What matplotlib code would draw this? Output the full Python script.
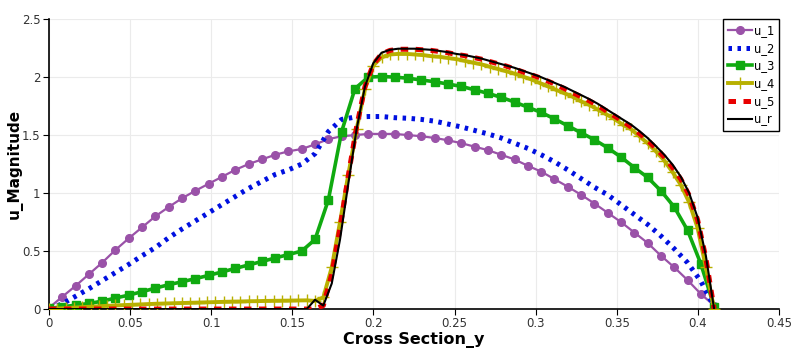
import matplotlib
matplotlib.use("Agg")
import matplotlib.pyplot as plt

# sample positions along the cross section
x_coarse = [0.0, 0.0082, 0.0164, 0.0246, 0.0328, 0.041, 0.0492, 0.0574, 0.0656, 0.0738,
            0.082, 0.0902, 0.0984, 0.1066, 0.1148, 0.123, 0.1312, 0.1394, 0.1476, 0.1558,
            0.164, 0.1722, 0.1804, 0.1886, 0.1968, 0.205, 0.2132, 0.2214, 0.2296, 0.2378,
            0.246, 0.2542, 0.2624, 0.2706, 0.2788, 0.287, 0.2952, 0.3034, 0.3116, 0.3198,
            0.328, 0.3362, 0.3444, 0.3526, 0.3608, 0.369, 0.3772, 0.3854, 0.3936, 0.4018,
            0.41]

x_fine = [0.0, 0.0051, 0.0103, 0.0154, 0.0205, 0.0256, 0.0308, 0.0359, 0.041, 0.0461,
          0.0513, 0.0564, 0.0615, 0.0666, 0.0718, 0.0769, 0.082, 0.0871, 0.0923, 0.0974,
          0.1025, 0.1076, 0.1128, 0.1179, 0.123, 0.1281, 0.1333, 0.1384, 0.1435, 0.1486,
          0.1538, 0.1589, 0.164, 0.1691, 0.1743, 0.1794, 0.1845, 0.1896, 0.1948, 0.1999,
          0.205, 0.2101, 0.2153, 0.2204, 0.2255, 0.2306, 0.2358, 0.2409, 0.246, 0.2511,
          0.2563, 0.2614, 0.2665, 0.2716, 0.2768, 0.2819, 0.287, 0.2921, 0.2973, 0.3024,
          0.3075, 0.3126, 0.3178, 0.3229, 0.328, 0.3331, 0.3383, 0.3434, 0.3485, 0.3536,
          0.3588, 0.3639, 0.369, 0.3741, 0.3793, 0.3844, 0.3895, 0.3946, 0.3998, 0.4049,
          0.41]

u_1 = [0.01, 0.106, 0.20, 0.30, 0.40, 0.51, 0.61, 0.705, 0.80, 0.88,
       0.955, 1.02, 1.08, 1.14, 1.20, 1.25, 1.29, 1.33, 1.36, 1.38,
       1.42, 1.465, 1.49, 1.50, 1.51, 1.51, 1.51, 1.50, 1.49, 1.475,
       1.455, 1.43, 1.40, 1.37, 1.33, 1.29, 1.235, 1.185, 1.12, 1.055,
       0.985, 0.91, 0.83, 0.75, 0.66, 0.57, 0.46, 0.36, 0.25, 0.13,
       0.03]

u_2 = [0.0, 0.045, 0.11, 0.175, 0.245, 0.315, 0.385, 0.46, 0.53, 0.615,
       0.69, 0.76, 0.83, 0.90, 0.97, 1.04, 1.10, 1.16, 1.20, 1.25,
       1.34, 1.53, 1.635, 1.655, 1.66, 1.66, 1.65, 1.645, 1.635, 1.62,
       1.595, 1.57, 1.54, 1.51, 1.475, 1.43, 1.385, 1.33, 1.27, 1.20,
       1.125, 1.05, 0.985, 0.90, 0.815, 0.73, 0.63, 0.52, 0.40, 0.24,
       0.02]

u_3 = [0.005, 0.02, 0.033, 0.048, 0.068, 0.095, 0.12, 0.15, 0.18, 0.21,
       0.235, 0.262, 0.29, 0.32, 0.35, 0.38, 0.41, 0.44, 0.47, 0.50,
       0.60, 0.94, 1.53, 1.90, 2.0, 2.005, 2.0, 1.99, 1.975, 1.96,
       1.94, 1.92, 1.89, 1.86, 1.825, 1.785, 1.74, 1.695, 1.64, 1.58,
       1.52, 1.46, 1.39, 1.31, 1.22, 1.135, 1.02, 0.88, 0.68, 0.39,
       0.02]

u_4 = [0.0, 0.004, 0.008, 0.012, 0.016, 0.02, 0.024, 0.028, 0.031, 0.034,
       0.037, 0.040, 0.043, 0.046, 0.048, 0.050, 0.052, 0.054, 0.056, 0.058,
       0.060, 0.062, 0.064, 0.065, 0.067, 0.068, 0.070, 0.071, 0.072, 0.073,
       0.074, 0.075, 0.07, 0.10, 0.36, 0.75, 1.16, 1.55, 1.90, 2.10,
       2.17, 2.195, 2.20, 2.20, 2.195, 2.19, 2.18, 2.175, 2.165, 2.155,
       2.14, 2.125, 2.11, 2.09, 2.07, 2.05, 2.03, 2.005, 1.98, 1.95,
       1.92, 1.89, 1.86, 1.83, 1.79, 1.76, 1.72, 1.68, 1.64, 1.59,
       1.55, 1.49, 1.43, 1.36, 1.28, 1.18, 1.07, 0.92, 0.70, 0.36,
       0.0]

u_5 = [0.0, 0.0, 0.0, 0.0, 0.0, 0.0, 0.0, 0.0, 0.0, 0.0,
       0.0, 0.0, 0.0, 0.0, 0.0, 0.0, 0.0, 0.0, 0.0, 0.0,
       0.0, 0.0, 0.0, 0.0, 0.0, 0.0, 0.0, 0.0, 0.0, 0.0,
       0.0, 0.0, 0.0, 0.03, 0.30, 0.70, 1.15, 1.57, 1.92, 2.11,
       2.20, 2.23, 2.24, 2.24, 2.24, 2.235, 2.23, 2.22, 2.21, 2.195,
       2.185, 2.17, 2.155, 2.135, 2.115, 2.095, 2.07, 2.045, 2.02, 1.995,
       1.965, 1.935, 1.90, 1.865, 1.83, 1.795, 1.755, 1.71, 1.665, 1.62,
       1.57, 1.515, 1.455, 1.385, 1.31, 1.22, 1.12, 0.98, 0.77, 0.44,
       0.0]

u_r = [0.0, 0.0, 0.0, 0.0, 0.0, 0.0, 0.0, 0.0, 0.0, 0.0,
       0.0, 0.0, 0.0, 0.0, 0.0, 0.0, 0.0, 0.0, 0.0, 0.0,
       0.0, 0.0, 0.0, 0.0, 0.0, 0.0, 0.0, 0.0, 0.0, 0.0,
       0.0, 0.0, 0.08, 0.03, 0.22, 0.60, 1.08, 1.55, 1.92, 2.12,
       2.21, 2.235, 2.245, 2.245, 2.245, 2.24, 2.235, 2.225, 2.215, 2.20,
       2.19, 2.175, 2.16, 2.14, 2.12, 2.10, 2.08, 2.055, 2.03, 2.005,
       1.975, 1.945, 1.915, 1.88, 1.845, 1.81, 1.77, 1.725, 1.68, 1.635,
       1.59, 1.535, 1.475, 1.405, 1.33, 1.245, 1.14, 1.00, 0.79, 0.46,
       0.0]

xticks = [0, 0.05, 0.1, 0.15, 0.2, 0.25, 0.3, 0.35, 0.4, 0.45]
xtick_labels = ["0", "0.05", "0.1", "0.15", "0.2", "0.25", "0.3", "0.35", "0.4", "0.45"]
yticks = [0, 0.5, 1, 1.5, 2, 2.5]
ytick_labels = ["0", "0.5", "1", "1.5", "2", "2.5"]

fig = plt.figure(figsize=(7.99, 3.54), dpi=100)
ax = fig.add_axes([0.0613, 0.127, 0.9137, 0.819])

ax.plot(x_coarse, u_1, color="#9a52a8", lw=1.6, marker="o", ms=5.5, label="u_1", zorder=3)
ax.plot(x_coarse, u_2, color="#0010e0", lw=3.6, linestyle=(0, (0.7, 1.1)), label="u_2", zorder=4)
ax.plot(x_coarse, u_3, color="#10aa10", lw=2.6, marker="s", ms=6, label="u_3", zorder=5)
ax.plot(x_fine, u_4, color="#b8b000", lw=2.8, marker="+", ms=8, mew=1.0, label="u_4", zorder=6)
ax.plot(x_fine, u_5, color="#e80000", lw=3.6, linestyle=(0, (1.5, 1.5)), label="u_5", zorder=7)
ax.plot(x_fine, u_r, color="black", lw=1.5, label="u_r", zorder=8)

ax.set_xlim(0, 0.45)
ax.set_ylim(0, 2.5)
ax.set_xticks(xticks)
ax.set_xticklabels(xtick_labels)
ax.set_yticks(yticks)
ax.set_yticklabels(ytick_labels)
ax.tick_params(labelsize=8.5, length=4, color="black", labelcolor="#333333", pad=2)
ax.grid(True, color="#ebebeb", lw=0.8)
ax.set_axisbelow(True)
for s in ["top", "right"]:
    ax.spines[s].set_visible(False)
for s in ["left", "bottom"]:
    ax.spines[s].set_linewidth(1.2)

ax.set_xlabel("Cross Section_y", fontsize=11.5, fontweight="bold", labelpad=1)
ax.set_ylabel("u_Magnitude", fontsize=11, fontweight="bold")
ax.yaxis.set_label_coords(-0.036, 0.5)

leg = ax.legend(loc="upper right", bbox_to_anchor=(1.0, 1.0), borderaxespad=0,
                fontsize=8.3, fancybox=False, framealpha=1, edgecolor="black",
                handlelength=2.1, handletextpad=0.2, labelspacing=0.42,
                borderpad=0.4)
leg.get_frame().set_linewidth(1.0)
leg.set_zorder(20)

fig.savefig("out.png", dpi=100)
